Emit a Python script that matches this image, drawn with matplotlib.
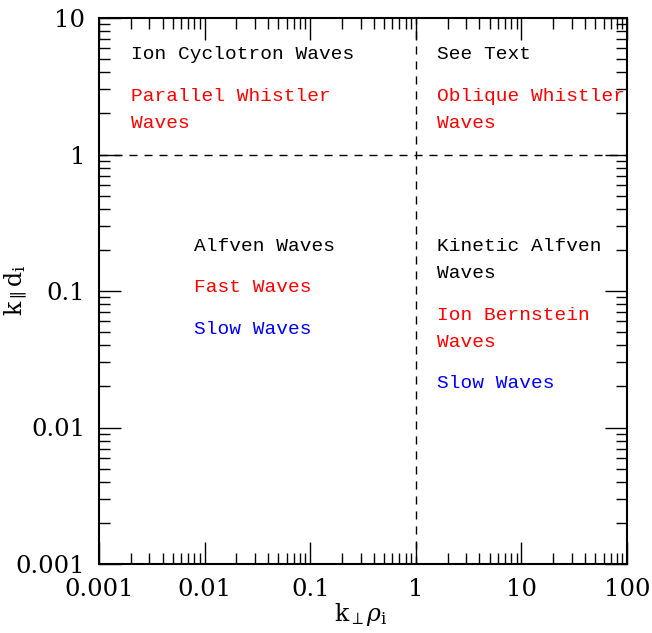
import matplotlib
matplotlib.use('Agg')
import matplotlib.pyplot as plt

# axis ranges and tick labels
x_lim = [0.001, 100]
y_lim = [0.001, 10]
x_ticks = [0.001, 0.01, 0.1, 1, 10, 100]
x_labels = ['0.001', '0.01', '0.1', '1', '10', '100']
y_ticks = [0.001, 0.01, 0.1, 1, 10]
y_labels = ['0.001', '0.01', '0.1', '1', '10']

# boundary lines
x_boundary = 1
y_boundary = 1

# region labels, one line each: text, colour, axes-fraction baseline position
label_texts = ['Ion Cyclotron Waves', 'Parallel Whistler', 'Waves',
               'See Text', 'Oblique Whistler', 'Waves',
               'Alfven Waves', 'Fast Waves', 'Slow Waves',
               'Kinetic Alfven', 'Waves', 'Ion Bernstein', 'Waves', 'Slow Waves']
label_colors = ['black', 'red', 'red',
                'black', 'red', 'red',
                'black', 'red', 'blue',
                'black', 'black', 'red', 'red', 'blue']
label_x = [0.061, 0.061, 0.061,
           0.640, 0.640, 0.640,
           0.180, 0.180, 0.180,
           0.640, 0.640, 0.640, 0.640, 0.640]
label_y = [0.925, 0.848, 0.799,
           0.925, 0.848, 0.799,
           0.573, 0.498, 0.421,
           0.573, 0.524, 0.447, 0.397, 0.322]

plt.rcParams['mathtext.fontset'] = 'dejavuserif'

fig = plt.figure(figsize=(6.52, 6.33), dpi=100)
ax = fig.add_axes([99/652, 1 - 564/633, 528/652, 546/633])
ax.set_xscale('log')
ax.set_yscale('log')
ax.set_xlim(x_lim)
ax.set_ylim(y_lim)

ax.axvline(x_boundary, color='black', lw=1, ls=(0, (5.8, 5)))
ax.axhline(y_boundary, color='black', lw=1, ls=(0, (5.8, 5)))

for t, c, x, y in zip(label_texts, label_colors, label_x, label_y):
    ax.text(x, y, t, color=c, transform=ax.transAxes, family='Liberation Mono',
            fontsize=14, va='baseline', ha='left')

ax.set_xticks(x_ticks)
ax.set_xticklabels(x_labels, family='DejaVu Serif', fontsize=17.5)
ax.set_yticks(y_ticks)
ax.set_yticklabels(y_labels, family='DejaVu Serif', fontsize=17.5)
ax.tick_params(which='both', direction='in', top=True, right=True)
ax.tick_params(which='major', length=16, width=1, pad=10)
ax.tick_params(which='minor', length=8, width=1)
for s in ax.spines.values():
    s.set_linewidth(1.5)

ax.set_xlabel(r'$\mathrm{k}_{\perp}\rho_{\mathrm{i}}$', fontsize=17, va='center')
ax.xaxis.set_label_coords(0.496, -0.093)
ax.set_ylabel(r'$\mathrm{k}_{\parallel}\mathrm{d}_{\mathrm{i}}$', fontsize=17, va='center')
ax.yaxis.set_label_coords(-0.157, 0.502)

fig.savefig('out.png', dpi=100)
